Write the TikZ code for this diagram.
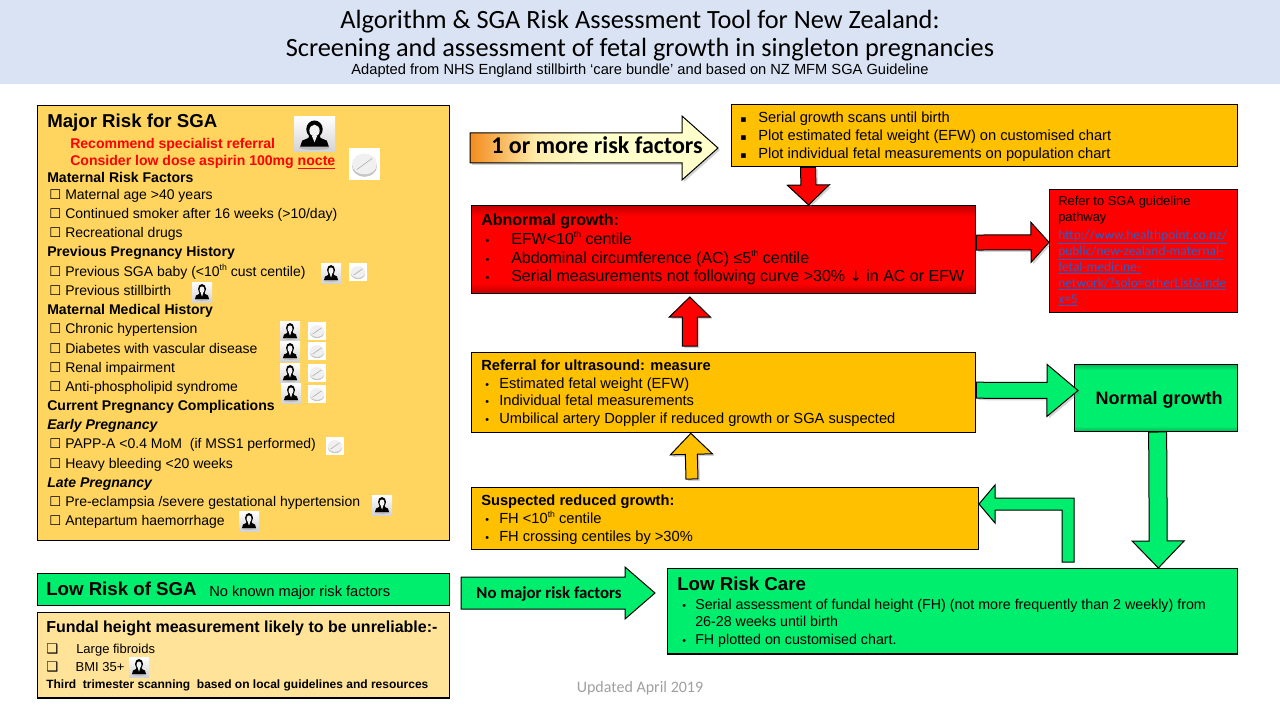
\documentclass[tikz,border=0pt]{standalone}
\usepackage{fontspec}
\setmainfont{Liberation Sans}
\newfontfamily\carlito{Carlito}
\newfontfamily\symfont{DejaVu Sans}
\usepackage{tikz}
\usetikzlibrary{calc,shadows}
\definecolor{headband}{HTML}{DAE3F3}
\definecolor{majorfill}{HTML}{FFD55F}
\definecolor{amberfill}{HTML}{FFC000}
\definecolor{greenfill}{HTML}{00EE6E}
\definecolor{palefill}{HTML}{FFE399}
\definecolor{linkblue}{HTML}{2A5FC8}
\definecolor{riskorange}{HTML}{F28C1E}
\definecolor{risklight}{HTML}{FFE9A6}
\definecolor{riskpale}{HTML}{FFFFCC}
\definecolor{reddark}{HTML}{C00000}
\definecolor{greendark}{HTML}{00B858}
\pgfdeclarehorizontalshading{riskshade}{100bp}{color(0bp)=(riskorange); color(25bp)=(riskorange); color(38bp)=(risklight); color(50bp)=(riskpale); color(100bp)=(riskpale)}
\pgfdeclareverticalshading{redshade}{100bp}{color(0bp)=(reddark); color(25bp)=(reddark); color(31bp)=(red); color(69bp)=(red); color(75bp)=(reddark); color(100bp)=(reddark)}
\pgfdeclareverticalshading{greenshade}{100bp}{color(0bp)=(greendark); color(25bp)=(greendark); color(29bp)=(greenfill); color(71bp)=(greenfill); color(75bp)=(greendark); color(100bp)=(greendark)}
\newcommand{\fs}[1]{\fontsize{#1}{#1}\selectfont}
\newcommand{\cb}{\makebox[12pt][l]{\symfont\fs{10}\char"2610}}
\newcommand{\sth}{\raisebox{.38em}{\fs{6.5}th}}
\newcommand{\dotb}{{\fs{8}•}}
\tikzset{
  panel/.style={draw=black,line width=1pt,anchor=north west,inner sep=0pt},
  lbl/.style={anchor=base west,inner sep=0pt,font=\fs{10.5}},
  lblb/.style={lbl,font=\fs{11}},
  head/.style={lbl,font=\fs{10.55}\bfseries},
  headb/.style={lbl,font=\fs{11}\bfseries},
  big/.style={lbl,font=\fs{14}\bfseries},
  arrowshadow/.style={drop shadow={shadow xshift=1.5pt,shadow yshift=-1.5pt,opacity=.35}},
  blockarrow/.style n args={4}{draw=black,line width=.75pt,fill=#1,
    to path={
      ($(\tikztostart)!#2*0.75pt!90:(\tikztotarget)$)
      -- ($($(\tikztotarget)!#4*0.75pt!(\tikztostart)$)!#2*0.75pt!-90:(\tikztostart)$)
      -- ($($(\tikztotarget)!#4*0.75pt!(\tikztostart)$)!#3*0.75pt!-90:(\tikztostart)$)
      -- (\tikztotarget)
      -- ($($(\tikztotarget)!#4*0.75pt!(\tikztostart)$)!#3*0.75pt!90:(\tikztostart)$)
      -- ($($(\tikztotarget)!#4*0.75pt!(\tikztostart)$)!#2*0.75pt!90:(\tikztostart)$)
      -- ($(\tikztostart)!#2*0.75pt!-90:(\tikztotarget)$)
      -- cycle}},
  doctor/.pic={
    \shade[top color=white,bottom color=gray!35] (-10,-10) rectangle (10,10);
    \fill[gray!55] (0,7.5) circle[x radius=7.5,y radius=1.3];
    \fill[black] (-7,7) -- (-6,3.5) -- (-3,2) -- (-2.5,.5) -- (2.5,.5) -- (3,2) -- (6,3.5) -- (7,7) -- cycle;
    \fill[black] (0,-3) circle[x radius=4,y radius=5];
    \fill[gray!10] (0,-2.2) circle[x radius=2.5,y radius=3.4];
    \fill[gray!10] (-1.2,1) -- (1.2,1) -- (0,4.5) -- cycle;
  },
  pill/.pic={
    \fill[white] (-10,-10) rectangle (10,10);
    \fill[gray!45] (0,1.5) circle[x radius=8,y radius=6.5];
    \fill[gray!12] (0,0) circle[x radius=8,y radius=6.5];
    \draw[gray!60,line width=.5pt] (-5,3.5) -- (5,-3.5);
  },
}
\begin{document}
\begin{tikzpicture}[x=0.75pt,y=-0.75pt]
\useasboundingbox (0,0) rectangle (1280,720);
\fill[headband] (0,0) rectangle (1280,84);
\node (title1) at (640,22) {\carlito\fs{19.75}Algorithm \& SGA Risk Assessment Tool for New Zealand:};
\node (title2) at (640,50) {\carlito\fs{19.75}Screening and assessment of fetal growth in singleton pregnancies};
\node (subtitle) at (640,71) {\fs{11}Adapted from NHS England stillbirth ‘care bundle’ and based on NZ MFM SGA Guideline};

% left column
\node[panel,fill=majorfill,minimum width=309pt,minimum height=326pt] (major) at (37,105) {};
\node[big] (majorhead) at (47,128) {Major Risk for SGA};
\node[head,text=red] (rec1) at (70,149) {Recommend specialist referral};
\node[head,text=red] (rec2) at (70,166) {Consider low dose aspirin 100mg \underline{nocte}};
\foreach \y/\txt [count=\i] in {183/Maternal Risk Factors,257/Previous Pregnancy History,314/Maternal Medical History,410/Current Pregnancy Complications}
  \node[head] (sect\i) at (47,\y) {\txt};
\foreach \y/\txt [count=\i] in {429/Early Pregnancy,487/Late Pregnancy}
  \node[head,font=\fs{10.55}\bfseries\itshape] (stage\i) at (47,\y) {\txt};
\foreach \y/\txt [count=\i] in {200/{Maternal age >40 years},219/{Continued smoker after 16 weeks (>10/day)},238/{Recreational drugs},276/{Previous SGA baby (<10\sth\ cust centile)},295/{Previous stillbirth},333/{Chronic hypertension},353/{Diabetes with vascular disease},372/{Renal impairment},391/{Anti-phospholipid syndrome},448/{PAPP-A <0.4 MoM~ (if MSS1 performed)},468/{Heavy bleeding <20 weeks},506/{Pre-eclampsia /severe gestational hypertension},525/{Antepartum haemorrhage}}
  \node[lbl] (risk\i) at (49,\y) {\cb\txt};

\node[panel,fill=greenfill,minimum width=309pt,minimum height=24pt] (lowrisk) at (37,573) {};
\node[big] (lowriskhead) at (46,595) {Low Risk of SGA};
\node[lblb] (lowrisktext) at (209,596) {No known major risk factors};
\node[panel,fill=palefill,line width=1.1pt,minimum width=309pt,minimum height=64pt] (fundal) at (37,612) {};
\node[lbl,font=\fs{12}\bfseries] (fundalhead) at (46,632) {Fundal height measurement likely to be unreliable:-};
\node[lbl,font=\fs{9.75}] (fundal1) at (46,653) {\makebox[22.5pt][l]{\symfont\bfseries\fs{10}\char"2751}Large fibroids};
\node[lbl,font=\fs{9.75}] (fundal2) at (46,671) {\makebox[22pt][l]{\symfont\bfseries\fs{10}\char"2751}BMI 35+};
\node[lbl,font=\fs{9}\bfseries] (fundal3) at (46,688) {Third~ trimester scanning~ based on local guidelines and resources};
\path (314.5,134.5) pic[xscale=2.05,yscale=1.75] {doctor};
\path (364.5,164) pic[xscale=1.55,yscale=1.6] {pill};
\foreach \x/\y in {331/273,202/292,290/331,290/351,290/373,291/393,382/505,249/521,139/667}
  \path (\x,\y) pic {doctor};
\foreach \x/\y in {358/272,317/331,317/351,317/373,317/394,335/446}
  \path (\x,\y) pic[scale=.9] {pill};

% boxes on the right
\node[panel,fill=amberfill,minimum width=379.5pt,minimum height=46.5pt] (scans) at (731,104) {};
\foreach \y/\txt [count=\i] in {123/{Serial growth scans until birth},141/{Plot estimated fetal weight (EFW) on customised chart},159/{Plot individual fetal measurements on population chart}}
  \node[lblb] (scan\i) at (740,\y) {\makebox[13.5pt][l]{\symfont\fs{7}\char"25AA}\txt};
\node[panel,shading=redshade,minimum width=378pt,minimum height=66pt] (abnormal) at (471,205) {};
\node[lbl,font=\fs{12}\bfseries] (abhead) at (481,225) {Abnormal growth:};
\foreach \y/\txt [count=\i] in {244/{EFW<10\sth\ centile},263/{Abdominal circumference (AC) ≤5\sth\ centile},281/{Serial measurements not following curve >30\% {\symfont\fs{11}\char"2193} in AC or EFW}}
  \node[lbl,font=\fs{12}] (ab\i) at (481,\y) {\makebox[22.5pt][l]{~\dotb}\txt};
\node[panel,fill=red,minimum width=141pt,minimum height=92pt] (refer) at (1049,189) {};
\node[lbl,font=\fs{9.7}] (refer1) at (1058,206) {Refer to SGA guideline};
\node[lbl,font=\fs{9.7}] (refer2) at (1058,222) {pathway};
\foreach \y/\txt [count=\i] in {239/{http://www.healthpoint.co.nz/},255/{public/new-zealand-maternal-},271/{fetal-medicine-},287/{network/?solo=otherList\&inde},303/{x=5}}
  \node[lbl,font=\carlito\fs{10.1},text=linkblue] (link\i) at (1058,\y) {\underline{\txt}};
\node[panel,fill=amberfill,minimum width=378pt,minimum height=60pt] (referral) at (471,352) {};
\node[headb] (referralhead) at (481,370) {Referral for ultrasound: measure};
\foreach \y/\txt [count=\i] in {388/{Estimated fetal weight (EFW)},405/{Individual fetal measurements},423/{Umbilical artery Doppler if reduced growth or SGA suspected}}
  \node[lblb] (referral\i) at (481,\y) {\makebox[13.5pt][l]{~\dotb}\txt};
\node[panel,shading=greenshade,minimum width=122pt,minimum height=50pt] (normal) at (1074,364) {};
\node[lbl,font=\fs{13.5}\bfseries,anchor=base] (normaltext) at (1159,404) {Normal growth};
\node[panel,fill=amberfill,minimum width=380pt,minimum height=46.5pt] (suspected) at (471,487) {};
\node[headb] (suspectedhead) at (481,505) {Suspected reduced growth:};
\foreach \y/\txt [count=\i] in {523/{FH <10\sth\ centile},541/{FH crossing centiles by >30\%}}
  \node[lblb] (suspected\i) at (481,\y) {\makebox[13.5pt][l]{~\dotb}\txt};
\node[panel,fill=greenfill,minimum width=427.5pt,minimum height=64pt] (lowcare) at (667,568) {};
\node[big] (lowcarehead) at (677,590) {Low Risk Care};
\node[lbl,font=\fs{10.7}] (care1) at (682,609) {\makebox[9.75pt][l]{\dotb}Serial assessment of fundal height (FH) (not more frequently than 2 weekly) from};
\node[lbl,font=\fs{10.7}] (care2) at (695,626) {26-28 weeks until birth};
\node[lbl,font=\fs{10.7}] (care3) at (682,644) {\makebox[9.75pt][l]{\dotb}FH plotted on customised chart.};

% block arrows
\coordinate (riskstart) at (470,148);
\coordinate (risktip) at (718,148);
\draw[blockarrow={white}{15}{32}{36},shading=riskshade,arrowshadow] (riskstart) to (risktip);
\node[lbl,font=\carlito\fs{18}\bfseries] (risktext) at (491,154) {1 or more risk factors};
\draw[blockarrow={red}{7.5}{21}{20},arrowshadow] ($(scans.south west)!.152!(scans.south east)$) to ($(abnormal.north west)!.668!(abnormal.north east)$);
\draw[blockarrow={red}{7.5}{20}{18},arrowshadow] ($(abnormal.north east)!.42!(abnormal.south east)$) to ($(refer.north west)!.43!(refer.south west)$);
\draw[blockarrow={red}{7.5}{20.5}{20},arrowshadow] ([yshift=4.5pt]$(referral.north west)!.433!(referral.north east)$) to ([yshift=-2pt]$(abnormal.south west)!.433!(abnormal.south east)$);
\draw[blockarrow={amberfill}{6}{21}{21},arrowshadow] ([yshift=6pt]$(suspected.north west)!.435!(suspected.north east)$) to ($(referral.south west)!.435!(referral.south east)$);
\draw[blockarrow={greenfill}{8}{26}{31},arrowshadow] ($(referral.north east)!.47!(referral.south east)$) to ([xshift=3pt]$(normal.north west)!.39!(normal.south west)$);
\draw[blockarrow={greenfill}{9}{26}{27}] ($(normal.south west)!.51!(normal.south east)$) to ($(lowcare.north west)!.86!(lowcare.north east)$);
\coordinate (benttip) at (979,504);
\draw[draw=black,line width=.75pt,fill=greenfill] (1074,562) -- (1074,498) -- (995,498) -- (995,485) -- (benttip) -- (995,523) -- (995,510) -- (1062,510) -- (1062,562) -- cycle;
\coordinate (nomajorstart) at (461,593);
\coordinate (nomajortip) at (655,593);
\draw[blockarrow={greenfill}{16}{26}{30}] (nomajorstart) to (nomajortip);
\node[lbl,font=\carlito\fs{12.6}\bfseries,anchor=base] (nomajortext) at (549,598) {No major risk factors};

\node[font=\carlito\fs{12},text=gray!75] (updated) at (640,688) {Updated April 2019};
\end{tikzpicture}
\end{document}
